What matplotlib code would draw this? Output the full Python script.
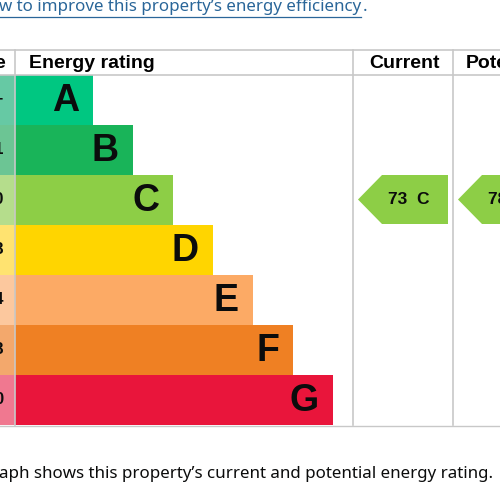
import matplotlib
matplotlib.use("Agg")
import matplotlib.pyplot as plt
from matplotlib.patches import Rectangle, Polygon

# ---- data ----
bands = ["A", "B", "C", "D", "E", "F", "G"]
score_ranges = ["92+", "81-91", "69-80", "55-68", "39-54", "21-38", "1-20"]
bar_ends = [93, 133, 173, 213, 253, 293, 333]   # right edge of each band bar
band_colors = ["#00c781", "#19b459", "#8dce46", "#ffd500", "#fcaa65", "#ef8023", "#e9153b"]
light_colors = ["#66c9a4", "#6cc594", "#b5dd8c", "#ffe370", "#fcc89e", "#f3a86c", "#f07890"]
current_rating = 73
current_band = "C"
potential_rating = 78
potential_band = "C"
link_text = "w to improve this property\u2019s energy efficiency"
caption = "aph shows this property\u2019s current and potential energy rating."

W, H = 500, 500
fig = plt.figure(figsize=(5, 5), dpi=100)
ax = fig.add_axes([0, 0, 1, 1])
ax.set_xlim(0, W)
ax.set_ylim(H, 0)
ax.axis("off")

FONT = "Liberation Sans"
LINK_FONT = "Noto Sans"
grey = "#c8c8c8"
link_col = "#2a6699"

row_top = 75
row_h = 50
left_col = 15
cur_x0, cur_x1 = 353, 453

# link text
t = ax.text(-1, 7, link_text, color=link_col, fontsize=12.2, family=LINK_FONT,
            va="center", ha="left")
fig.canvas.draw()
bb = t.get_window_extent()
x_end = bb.x1
ax.text(x_end + 1, 7, ".", color=link_col, fontsize=12.2, family=LINK_FONT, va="center")
ax.plot([0, x_end], [17, 17], color=link_col, lw=0.9)

# table lines
ax.plot([0, W], [50, 50], color=grey, lw=1.2)
ax.plot([0, W], [row_top, row_top], color=grey, lw=1.2)
ax.plot([0, W], [425.5, 425.5], color=grey, lw=1.0)
for xv in [left_col, cur_x0, cur_x1]:
    ax.plot([xv, xv], [50, 425], color=grey, lw=1.2)

# headers
hs = 14
ax.text(-6, 63, "e", fontsize=hs, fontweight="bold", family=FONT, va="center", ha="left")
ax.text(29, 63, "Energy rating", fontsize=hs, fontweight="bold", family=FONT, va="center")
ax.text(404, 63, "Current", fontsize=hs, fontweight="bold", family=FONT, va="center", ha="center")
ax.text(466, 63, "Potential", fontsize=hs, fontweight="bold", family=FONT, va="center", ha="left")

# bands
for i, (b, sr, end, c, lc) in enumerate(zip(bands, score_ranges, bar_ends, band_colors, light_colors)):
    y0 = row_top + i * row_h
    ax.add_patch(Rectangle((0, y0), left_col, row_h, color=lc, lw=0))
    ax.add_patch(Rectangle((left_col, y0), end - left_col, row_h, color=c, lw=0))
    ax.text(end - 14, y0 + row_h / 2 + 1, b, fontsize=27, fontweight="bold", family=FONT,
            ha="right", va="center", color="#0b0c0c")
    ax.text(4, y0 + row_h / 2, sr, fontsize=12, fontweight="bold", family=FONT,
            ha="right", va="center", color="#0b0c0c")

def arrow(x_tip, x_right, band, label):
    i = bands.index(band)
    y0 = row_top + i * row_h
    y1 = y0 + row_h - 1
    ym = (y0 + y1) / 2
    poly = Polygon([(x_tip, ym), (x_tip + 24, y0), (x_right, y0), (x_right, y1), (x_tip + 24, y1)],
                   closed=True, color=band_colors[i], lw=0)
    ax.add_patch(poly)
    ax.text(x_tip + 30, ym, label, fontsize=12.5, fontweight="bold", family=FONT,
            ha="left", va="center", color="#0b0c0c")

arrow(358, 448, current_band, f"{current_rating}  {current_band}")
arrow(458, 548, potential_band, f"{potential_rating}  {potential_band}")

ax.text(-1, 474, caption, fontsize=12.2, family=LINK_FONT, va="center", ha="left", color="#0b0c0c")

fig.savefig("out.png", dpi=100)
